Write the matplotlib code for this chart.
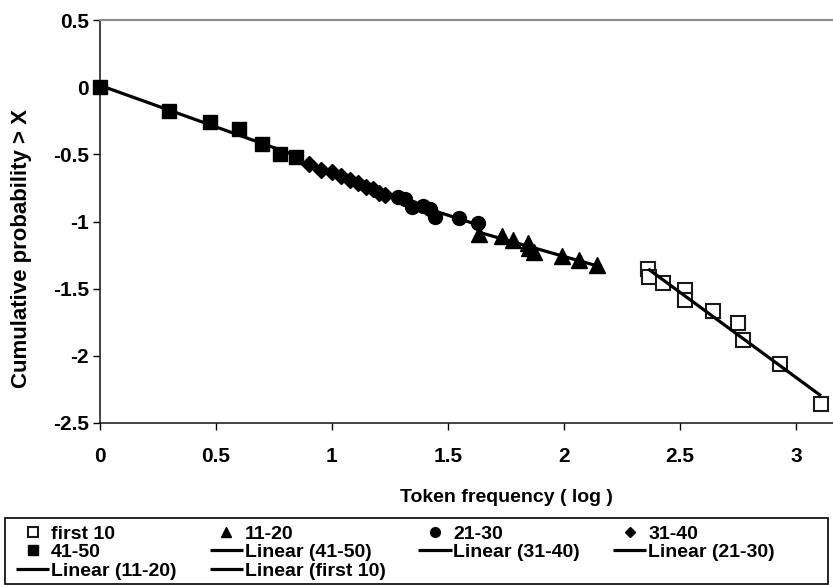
import numpy as np
import matplotlib
matplotlib.use('Agg')
from matplotlib import pyplot as plt
from matplotlib.ticker import FuncFormatter
from matplotlib.patches import Rectangle

# log token frequency (x) vs log cumulative probability (y)
x_first10 = [2.362, 2.367, 2.424, 2.520, 2.520, 2.640, 2.750, 2.771, 2.929, 3.106]
y_first10 = [-1.356, -1.411, -1.456, -1.510, -1.585, -1.664, -1.758, -1.882, -2.063, -2.361]

x_11_20 = [1.633, 1.732, 1.778, 1.845, 1.851, 1.869, 1.991, 2.064, 2.143]
y_11_20 = [-1.09, -1.11, -1.14, -1.16, -1.20, -1.23, -1.26, -1.29, -1.325]

x_21_30 = [1.286, 1.315, 1.344, 1.394, 1.423, 1.444, 1.549, 1.628]
y_21_30 = [-0.815, -0.835, -0.89, -0.885, -0.909, -0.964, -0.976, -1.009]

x_31_40 = [0.903, 0.954, 1.000, 1.041, 1.079, 1.114, 1.146, 1.176, 1.204, 1.230]
y_31_40 = [-0.57, -0.62, -0.63, -0.66, -0.69, -0.71, -0.74, -0.76, -0.79, -0.80]

x_41_50 = [0.0, 0.301, 0.477, 0.602, 0.699, 0.778, 0.845]
y_41_50 = [0.0, -0.18, -0.26, -0.31, -0.42, -0.50, -0.52]

xticks = [0, 0.5, 1, 1.5, 2, 2.5, 3]
yticks = [-2.5, -2, -1.5, -1, -0.5, 0, 0.5]

plt.rcParams['font.family'] = ['Liberation Sans', 'DejaVu Sans']
plt.rcParams['font.weight'] = 'bold'
plt.rcParams['axes.unicode_minus'] = False

W, H = 833, 585
fig = plt.figure(figsize=(W / 100, H / 100), dpi=100)
# plot area runs past the right edge of the picture (chart was cropped), x max 3.5
ax = fig.add_axes([99.5 / W, 1 - 423 / H, 813 / W, 403 / H])

pts = {}
pts['first 10'], = ax.plot(x_first10, y_first10, ls='none', marker='s', ms=10.5,
                           mfc='white', mec='#1a1a1a', mew=1.5, zorder=4,
                           clip_on=False)
pts['11-20'], = ax.plot(x_11_20, y_11_20, ls='none', marker='^', ms=11,
                        color='black', zorder=4, clip_on=False)
pts['21-30'], = ax.plot(x_21_30, y_21_30, ls='none', marker='o', ms=10,
                        color='black', zorder=4, clip_on=False)
pts['31-40'], = ax.plot(x_31_40, y_31_40, ls='none', marker='D', ms=8,
                        color='black', zorder=4, clip_on=False)
pts['41-50'], = ax.plot(x_41_50, y_41_50, ls='none', marker='s', ms=10.5,
                        color='black', zorder=4, clip_on=False)

fits = {}
for name, xs, ys in [('41-50', x_41_50, y_41_50), ('31-40', x_31_40, y_31_40),
                     ('21-30', x_21_30, y_21_30), ('11-20', x_11_20, y_11_20),
                     ('first 10', x_first10, y_first10)]:
    c = np.polyfit(xs, ys, 1)
    xe = np.array([min(xs), max(xs)])
    fits[name], = ax.plot(xe, np.polyval(c, xe), color='black', lw=2.3,
                          solid_capstyle='butt', zorder=5)

ax.set_xlim(0, 3.5)
ax.set_ylim(-2.5, 0.5)
ax.set_xticks(xticks)
ax.set_yticks(yticks)
fmt = FuncFormatter(lambda v, p: '%g' % v)
ax.xaxis.set_major_formatter(fmt)
ax.yaxis.set_major_formatter(fmt)
ax.tick_params(direction='out', length=5, width=1, labelsize=15)
ax.tick_params(axis='x', pad=12.5)
ax.tick_params(axis='y', pad=2.5)

ax.spines['right'].set_visible(False)
ax.spines['top'].set_color('#8c8c8c')
ax.spines['top'].set_linewidth(1.5)
for s in ['left', 'bottom']:
    ax.spines[s].set_color('#111111')
    ax.spines[s].set_linewidth(1.1)

ax.set_xlabel('Token frequency ( log )', fontsize=14, fontweight='bold')
ax.xaxis.set_label_coords(0.5, -0.164)
ax.set_ylabel('Cumulative probability > X', fontsize=16, fontweight='bold')
ax.yaxis.set_label_coords(-0.083, 0.434)

# legend is filled column by column, so order entries to read row by row
order = [pts['first 10'], pts['41-50'], fits['11-20'],
         pts['11-20'], fits['41-50'], fits['first 10'],
         pts['21-30'], fits['31-40'],
         pts['31-40'], fits['21-30']]
labels = ['first 10', '41-50', 'Linear (11-20)',
          '11-20', 'Linear (41-50)', 'Linear (first 10)',
          '21-30', 'Linear (31-40)',
          '31-40', 'Linear (21-30)']
leg = ax.legend(order, labels, ncol=4, loc='upper left',
                bbox_to_anchor=(16 / W, 1 - 525 / H),
                bbox_transform=fig.transFigure, borderaxespad=0, borderpad=0,
                prop={'weight': 'bold', 'size': 14}, handlelength=1.7,
                handletextpad=0.1, labelspacing=0.05, columnspacing=1.7,
                markerscale=0.7, frameon=False)

# legend box: the chart crop leaves it wider than its entries
fig.patches.append(Rectangle((5 / W, 1 - 584 / H), 823 / W, 66 / H,
                             transform=fig.transFigure, fill=False,
                             edgecolor='black', linewidth=1.2))

fig.savefig('out.png', dpi=100)
